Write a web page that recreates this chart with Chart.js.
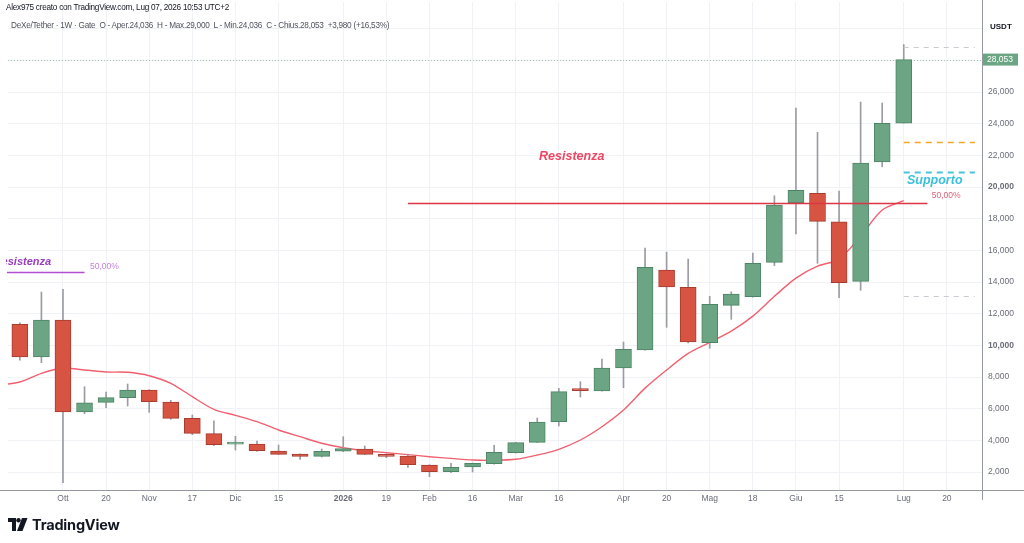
<!DOCTYPE html>
<html>
<head>
<meta charset="utf-8">
<script src="https://cdn.jsdelivr.net/npm/chart.js@4.4.1/dist/chart.umd.min.js"></script>
<style>
  html, body { margin: 0; padding: 0; background: #fff; }
  #wrap { position: relative; width: 1024px; height: 543px; overflow: hidden; font-family: "Liberation Sans", Arial, sans-serif; }
  #wrap canvas { position: absolute; left: 0; top: 0; }
  .hdr1 { position: absolute; left: 6px; top: 3px; font-size: 8.2px; letter-spacing: -0.25px; color: #131722; white-space: nowrap; }
  .hdr2 { position: absolute; left: 11px; top: 21px; font-size: 8.2px; letter-spacing: -0.25px; color: #50535e; white-space: nowrap; }
  .unit { position: absolute; left: 990px; top: 22px; font-size: 8px; font-weight: bold; color: #131722; }
  .logo { position: absolute; left: 8px; top: 516px; display: flex; align-items: center; gap: 4px; }
  .logo span { font-family: Inter, "Liberation Sans", sans-serif; font-weight: 700; font-size: 14.5px; color: #131722; letter-spacing: -0.2px; }
</style>
</head>
<body>
<div id="wrap">
  <canvas id="c" width="1024" height="543"></canvas>
  <div class="hdr1">Alex975 creato con TradingView.com, Lug 07, 2026 10:53 UTC+2</div>
  <div class="hdr2">DeXe/Tether · 1W · Gate &nbsp;O - Aper.24,036 &nbsp;H - Max.29,000 &nbsp;L - Min.24,036 &nbsp;C - Chius.28,053 &nbsp;+3,980 (+16,53%)</div>
  <div class="unit">USDT</div>
  <div class="logo">
    <svg width="20" height="13" viewBox="0 0 20 13">
      <path d="M0 0 H8 V13 H4 V4 H0 Z" fill="#131722"/>
      <circle cx="10.5" cy="2.2" r="2.2" fill="#131722"/>
      <path d="M14 0 H19.5 L14.5 13 H9 Z" fill="#131722"/>
    </svg>
    <span>TradingView</span>
  </div>
</div>
<script>
// Weekly DeXe/Tether candles, week of 22 Sep 2025 (index 0) .. 6 Jul 2026 (index 41)
var opens  = [11331, 9266, 11603, 5792, 6404, 6695, 7181, 6423, 5394, 4421, 3760, 3770, 3328, 3139, 2994, 3310, 3455, 3120, 3013, 2444, 2021, 2318, 2526, 3221, 3878, 5179, 7162, 7118, 8571, 9708, 14760, 13667, 10169, 12531, 13074, 15247, 18992, 19605, 17811, 14046, 21582, 24036];
var highs  = [11430, 13371, 13541, 7390, 7055, 7560, 7200, 6531, 5602, 5242, 4257, 3960, 3707, 3150, 3455, 4232, 3644, 3140, 3139, 2460, 2552, 2570, 3688, 3880, 5413, 7288, 7706, 9139, 10213, 16150, 15897, 15454, 13099, 13390, 15834, 19453, 24992, 23457, 19750, 25371, 25308, 29000];
var lows   = [9060, 8906, 1326, 5684, 6063, 6171, 5773, 5331, 4358, 3663, 3392, 3300, 3100, 2804, 2950, 3280, 3100, 2906, 2299, 1705, 1958, 2002, 2500, 3200, 3850, 4908, 6739, 7100, 7327, 9700, 11141, 10150, 9815, 11646, 13050, 15032, 17034, 15183, 13011, 13478, 21285, 24036];
var closes = [9266, 11603, 5792, 6379, 6695, 7181, 6442, 5394, 4446, 3726, 3790, 3347, 3120, 2994, 3310, 3474, 3120, 2994, 2463, 2021, 2299, 2552, 3246, 3853, 5160, 7074, 7140, 8571, 9752, 14931, 13686, 10213, 12594, 13245, 15183, 18866, 19794, 17836, 13958, 21519, 24026, 28053];
var ema    = [7686, 8236, 8552, 8445, 8318, 8299, 8084, 7604, 6758, 5962, 5583, 5179, 4655, 4232, 3815, 3537, 3347, 3221, 3100, 2968, 2860, 2760, 2741, 2804, 3076, 3436, 4023, 4863, 5918, 7300, 8445, 9499, 10194, 10900, 11850, 13100, 14250, 15000, 15450, 16900, 18550, 19137];
var emaPrevWeek = 7490; // week of 15 Sep, only its segment shows at the left edge

// time axis labels (week index -> text)
var xTickIndex = [2, 4, 6, 8, 10, 12, 15, 17, 19, 21, 23, 25, 28, 30, 32, 34, 36, 38, 41, 43];
var xTickText  = ['Ott', '20', 'Nov', '17', 'Dic', '15', '2026', '19', 'Feb', '16', 'Mar', '16', 'Apr', '20', 'Mag', '18', 'Giu', '15', 'Lug', '20'];
var yTicks = [2000, 4000, 6000, 8000, 10000, 12000, 14000, 16000, 18000, 20000, 22000, 24000, 26000, 28000, 30000];

// drawn levels: [value, fromIndex, toIndex]
var resistLevel = [19000, 18, 42.1];
var leftResistLevel = [14640, -0.6, 3.0];
var orangeLevel = [22840, 41, 44.3];
var supportLevel = [20940, 41, 44.3];
var topLevel = [28860, 41, 44.3];
var bottomLevel = [13110, 41, 44.3];

var GREEN = '#6ba583', GREEN_EDGE = '#4e8566';
var RED = '#d75442', RED_EDGE = '#a83c30';

var idx = closes.map(function (_, i) { return i; });
var upColor = closes.map(function (c, i) { return c >= opens[i] ? GREEN : RED; });
var upEdge = closes.map(function (c, i) { return c >= opens[i] ? GREEN_EDGE : RED_EDGE; });
var emaPoints = [{ x: -1, y: emaPrevWeek }].concat(idx.map(function (i) { return { x: i, y: ema[i] }; }));

var levelsPlugin = {
  id: 'levels',
  beforeDatasetsDraw: function (chart) {
    var c = chart.ctx, y = chart.scales.y, a = chart.chartArea;
    c.save();
    // last price dotted line
    c.strokeStyle = '#9fc7b0'; c.lineWidth = 1; c.setLineDash([1, 2]);
    var py = Math.round(y.getPixelForValue(closes[closes.length - 1])) + 0.5;
    c.beginPath(); c.moveTo(a.left, py); c.lineTo(a.right, py); c.stroke();
    c.restore();
  },
  afterDatasetsDraw: function (chart) {
    var c = chart.ctx, x = chart.scales.x, y = chart.scales.y, a = chart.chartArea;
    function hline(lv, color, width, dash) {
      var yy = Math.round(y.getPixelForValue(lv[0])) + 0.5;
      c.save();
      c.strokeStyle = color; c.lineWidth = width; c.setLineDash(dash || []);
      c.beginPath();
      c.moveTo(Math.max(0, x.getPixelForValue(lv[1])), yy);
      c.lineTo(x.getPixelForValue(lv[2]), yy);
      c.stroke();
      c.restore();
    }
    function label(text, xi, v, color, font, align, clipLeft) {
      c.save();
      if (clipLeft != null) { c.beginPath(); c.rect(clipLeft, 0, 1024, 543); c.clip(); }
      c.fillStyle = color; c.font = font; c.textAlign = align || 'left'; c.textBaseline = 'middle';
      c.fillText(text, x.getPixelForValue(xi), y.getPixelForValue(v));
      c.restore();
    }
    hline(resistLevel, '#dc3545', 1.5);
    hline(leftResistLevel, '#b04fcf', 1.5);
    hline(topLevel, '#c9cbd1', 1, [5, 5]);
    hline(orangeLevel, '#f5a623', 1.5, [6, 5]);
    hline(supportLevel, '#4cc3dc', 2, [6, 5]);
    hline(bottomLevel, '#c9cbd1', 1, [5, 5]);

    label('Resistenza', 25.6, 21900, '#ee4563', 'italic bold 12.5px "Liberation Sans", Arial, sans-serif', 'center');
    label('Resistenza', 1.45, 15300, '#9a3cc0', 'italic bold 11px "Liberation Sans", Arial, sans-serif', 'right', 6);
    label('50,00%', 3.25, 14950, '#c681dd', '8.5px "Liberation Sans", Arial, sans-serif');
    label('Supporto', 41.15, 20430, '#3cc0dc', 'italic bold 12.5px "Liberation Sans", Arial, sans-serif');
    label('50,00%', 42.3, 19435, '#e0607a', '8.5px "Liberation Sans", Arial, sans-serif');
  },
  afterDraw: function (chart) {
    var c = chart.ctx, y = chart.scales.y, a = chart.chartArea;
    c.save();
    // axis frame lines extending like the original
    c.strokeStyle = '#9598a1'; c.lineWidth = 1;
    c.beginPath(); c.moveTo(0, Math.round(a.bottom) + 0.5); c.lineTo(1024, Math.round(a.bottom) + 0.5); c.stroke();
    c.beginPath(); c.moveTo(Math.round(a.right) + 0.5, 0); c.lineTo(Math.round(a.right) + 0.5, a.bottom + 10); c.stroke();
    // last price tag
    var last = closes[closes.length - 1];
    var py = y.getPixelForValue(last);
    c.fillStyle = GREEN;
    c.fillRect(a.right + 1, py - 6, 35, 12);
    c.fillStyle = '#fff'; c.font = '8.5px "Liberation Sans", Arial, sans-serif';
    c.textBaseline = 'middle'; c.textAlign = 'left';
    c.fillText(last.toLocaleString('en-US'), a.right + 5, py + 0.5);
    c.restore();
  }
};

new Chart(document.getElementById('c'), {
  type: 'bar',
  data: {
    datasets: [
      {
        type: 'line',
        label: 'EMA',
        data: emaPoints,
        borderColor: '#f0606f',
        borderWidth: 1.4,
        pointRadius: 0,
        tension: 0.3,
        order: 3
      },
      {
        label: 'wick',
        data: idx.map(function (i) { return { x: i, y: [lows[i], highs[i]] }; }),
        backgroundColor: '#9a9ca3',
        barThickness: 1,
        grouped: false,
        order: 2
      },
      {
        label: 'body',
        data: idx.map(function (i) { return { x: i, y: [opens[i], closes[i]] }; }),
        backgroundColor: upColor,
        borderColor: upEdge,
        borderWidth: 1,
        borderSkipped: false,
        barThickness: 16,
        minBarLength: 2,
        grouped: false,
        order: 1
      }
    ]
  },
  options: {
    responsive: false,
    animation: false,
    layout: { padding: { left: 8, right: 0, top: 2, bottom: 33 } },
    plugins: { legend: { display: false }, tooltip: { enabled: false } },
    scales: {
      x: {
        type: 'linear',
        offset: false,
        min: -0.55,
        max: 44.63,
        afterBuildTicks: function (s) { s.ticks = xTickIndex.map(function (v) { return { value: v }; }); },
        afterFit: function (s) { s.height = 20; s.paddingLeft = 0; s.paddingRight = 0; },
        ticks: {
          autoSkip: false,
          maxRotation: 0,
          padding: 4,
          color: '#6a6d78',
          font: function (ctx) {
            var t = ctx.tick && xTickText[xTickIndex.indexOf(ctx.tick.value)];
            return { family: '"Liberation Sans", Arial, sans-serif', size: 8.5, weight: t === '2026' ? 'bold' : 'normal' };
          },
          callback: function (v) { var k = xTickIndex.indexOf(v); return k >= 0 ? xTickText[k] : ''; }
        },
        grid: { color: '#f0f2f6', drawTicks: false, offset: false },
        border: { display: false }
      },
      y: {
        position: 'right',
        min: 865,
        max: 31690,
        afterBuildTicks: function (s) { s.ticks = yTicks.map(function (v) { return { value: v }; }); },
        afterFit: function (s) { s.width = 42; s.paddingTop = 0; s.paddingBottom = 0; },
        ticks: {
          padding: 6,
          color: '#6a6d78',
          font: function (ctx) {
            var v = ctx.tick ? ctx.tick.value : 0;
            return { family: '"Liberation Sans", Arial, sans-serif', size: 8.5, weight: (v === 10000 || v === 20000) ? 'bold' : 'normal' };
          },
          callback: function (v) { return v > 26000 ? '' : v.toLocaleString('en-US'); }
        },
        grid: { color: '#f0f2f6', drawTicks: false },
        border: { display: false }
      }
    }
  },
  plugins: [levelsPlugin]
});
</script>
</body>
</html>
